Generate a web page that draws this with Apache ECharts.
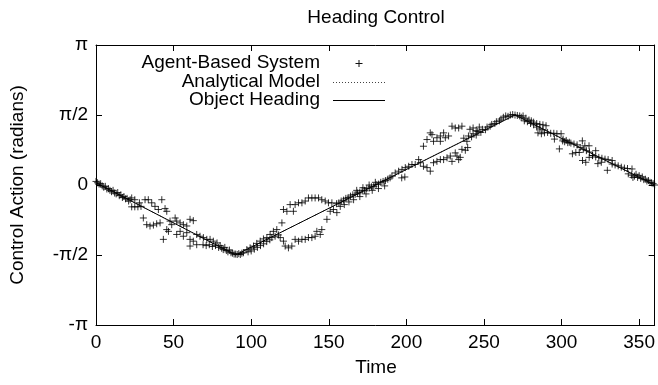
<!DOCTYPE html>
<html><head><meta charset="utf-8">
<script src="https://cdn.jsdelivr.net/npm/echarts@6/dist/echarts.min.js"></script>
<style>html,body{margin:0;padding:0;background:#fff}#c{width:658px;height:385px}</style>
</head><body><div id="c"></div>
<script>
const chartTitle = 'Heading Control';
const xName = 'Time';
const yName = 'Control Action (radians)';
const seriesNames = ['Agent-Based System', 'Analytical Model', 'Object Heading'];
const yTickLabels = ['-π', '-π/2', '0', 'π/2', 'π'];
const headingT = [0, 90, 270, 360];
const headingV = [0.05, -1.5708, 1.5708, 0];
const modelT = [0, 90, 270, 360];
const modelV = [0.05, -1.5708, 1.5708, 0];
const agentPoints = [
  [0,0.08],[1,0.05],[2,0.02],[3,0.03],[4,-0.02],[5,-0.05],[6,-0.03],[7,-0.09],[8,-0.08],[9,-0.12],
  [10,-0.15],[11,-0.12],[12,-0.18],[13,-0.2],[14,-0.17],[15,-0.24],[16,-0.22],[17,-0.28],[18,-0.26],
  [19,-0.31],[20,-0.3],[21,-0.36],[22,-0.33],
  [23,-0.29],[25,-0.33],[23,-0.49],[25,-0.49],[27,-0.49],[29,-0.48],[28,-0.40],
  [31.6,-0.33],[33.7,-0.33],[35.9,-0.40],[38,-0.48],[40.2,-0.55],[42.4,-0.33],[44.5,-0.53],[45.6,-0.59],
  [30.5,-0.74],[32.7,-0.89],[34.8,-0.92],[37,-0.90],[39.1,-0.87],[41.3,-0.85],[43.4,-1.22],[45.6,-1.0],[46.7,-1.04],
  [47.7,-0.81],[48.8,-0.89],[51,-0.74],[52,-0.81],[54.2,-0.85],[56.3,-0.89],[58.5,-0.92],[60.6,-0.77],[62.7,-0.80],
  [52,-1.11],[54.2,-1.04],[56.3,-1.15],[58.5,-1.07],[60.6,-1.22],[62.7,-1.26],[64.9,-1.34],[60.6,-1.37],
  [64.9,-1.11],[67,-1.15],[69.2,-1.18],[71.4,-1.22],[73.5,-1.22],[75.6,-1.26],[69,-1.34],[71,-1.36],[73,-1.34],
  [75,-1.38],[77,-1.36],[79,-1.40],[78,-1.30],[80,-1.36],[81,-1.42],[82,-1.45],[83,-1.40],[84,-1.47],[85,-1.50],
  [86,-1.46],[87,-1.52],[88,-1.53],[89,-1.55],[90,-1.55],[91,-1.56],[92,-1.54],[93,-1.56],[94,-1.53],[95,-1.52],
  [97.2,-1.45],[99.3,-1.41],[101.5,-1.37],[103.6,-1.31],[105.8,-1.26],[107.9,-1.21],[110.1,-1.18],[112.2,-1.11],
  [114.3,-1.04],[116.5,-1.0],
  [98,-1.50],[100,-1.48],[102,-1.44],[104,-1.40],[106,-1.36],[108,-1.32],[110,-1.27],[112,-1.23],
  [113.3,-1.18],[115.4,-1.15],[117.6,-1.12],[118.7,-1.18],[119.8,-0.85],[121.9,-1.37],[124,-1.41],[120.8,-1.26],[126.2,-1.37],
  [120.8,-0.55],[123,-0.59],[125.1,-0.44],[127.2,-0.59],[128.3,-0.44],[130.5,-0.40],[132.7,-0.40],[134.8,-0.36],
  [136.9,-0.29],[139.1,-0.29],[141.2,-0.29],[143.4,-0.29],[145.5,-0.33],[147.7,-0.36],[149.8,-0.40],[152,-0.40],
  [128.3,-1.22],[130.5,-1.26],[132.7,-1.22],[134.8,-1.22],[136.9,-1.18],[139.1,-1.18],[141.2,-1.15],[142.3,-1.04],
  [144.5,-1.11],[145.5,-1.0],
  [148.8,-0.77],[150.9,-0.59],[153,-0.55],[155.2,-0.62],[157.4,-0.48],
  [155,-0.42],[156.5,-0.40],[158,-0.36],[159.5,-0.34],[161,-0.30],[162.5,-0.28],[164,-0.25],[165.5,-0.22],[167,-0.21],
  [168.5,-0.18],[170,-0.16],[171.5,-0.13],[173,-0.12],[174.5,-0.08],[176,-0.07],[177.5,-0.04],[179,-0.03],[180.5,0.01],
  [182,0.02],[183.5,0.06],[185,0.08],[186.5,0.10],[188,0.13],[189.5,0.16],
  [160,-0.44],[163,-0.38],[166,-0.33],[170,-0.26],[174,-0.20],[178,-0.12],[182,-0.08],[186,-0.02],
  [168,-0.12],[172,-0.06],[176,0.0],[180,0.06],
  [190.7,0.20],[192.8,0.27],[195,0.31],[197.2,0.35],[199.3,0.39],[201.5,0.42],[203.6,0.46],[205.7,0.46],[197,0.16],
  [199,0.18],[207.9,0.57],[209,0.50],
  [211,0.42],[213.3,0.39],[215.4,0.31],
  [211,0.87],[213.3,1.02],[215.4,1.17],[216.5,1.13],[217.5,0.98],[219.7,1.06],[221.9,1.10],[221.9,0.98],[224,1.17],
  [225.1,1.06],[227.2,1.10],[229.4,1.32],[231.5,1.28],[233.7,1.28],[235.8,1.32],
  [217.5,0.5],[219.7,0.53],[221.9,0.57],[224,0.57],[226.2,0.61],[228.3,0.65],[229.4,0.53],[231.5,0.72],[232.6,0.65],
  [233.7,0.57],[235.8,0.80],
  [237,1.05],[239,0.98],[240,1.10],[242,1.08],[243,1.15],[245,1.12],[246,1.20],[248,1.18],[249,1.25],[251,1.24],
  [252,1.30],[254,1.32],[255,1.36],[257,1.38],[258,1.42],[260,1.44],[261,1.48],
  [238,0.78],[239.5,0.84],[241,1.25],[243,1.28],[245,1.22],[247,1.30],[234.7,0.62],
  [262.5,1.52],[264,1.55],[265.5,1.54],[267,1.57],[268.5,1.58],[270,1.57],[271.5,1.56],[273,1.55],[274,1.52],
  [275.2,1.55],[277,1.50],[279,1.46],[280.5,1.44],[282,1.41],[284,1.38],[286,1.36],[288,1.35],[290,1.33],
  [284.8,1.17],[287,1.15],[289,1.17],[291,1.18],[293,1.16],[295,1.16],[297,1.15],[299.7,1.15],
  [276,1.44],[278,1.42],[280,1.38],[282,1.35],[284,1.30],[286,1.26],[288,1.24],
  [295.4,1.03],[298.6,0.81],
  [300.7,0.99],[302,0.97],[304,0.95],[306,0.94],[308,0.92],[310,0.90],[313.4,0.99],[315,0.88],[317.7,0.88],
  [307,0.70],[309.2,0.73],[311.4,0.73],[313.5,0.55],[315.6,0.51],[317.8,0.62],[319.9,0.66],[322,0.77],
  [320,0.66],[322,0.63],[324,0.62],[326,0.60],[328,0.58],[330,0.57],[332.6,0.55],
  [323.4,0.48],[325.6,0.51],[329.5,0.33],
  [301,1.03],[303,1.0],[305,0.96],[312,0.84],[314,0.80],[316,0.77],[318,0.74],
  [332.6,0.47],[334.5,0.45],[336.5,0.43],[338.5,0.40],[340.5,0.38],[342.5,0.37],[345.4,0.36],
  [343,0.25],[345,0.22],[347,0.20],[349,0.17],[351,0.15],[353,0.12],[355,0.09],[357,0.06],[359,0.03],[360,0.0],
  [346,0.17],[348,0.24],[350,0.21],[352,0.18],[354,0.13],[356,0.1],[358,0.05]
];

const FONT = '"Liberation Sans", Arial, Helvetica, sans-serif';
const zip = (a, b) => a.map((v, i) => [v, b[i]]);
const axisCommon = {
  axisLine: { show: true, onZero: false, lineStyle: { color: '#000', width: 1 } },
  axisTick: { show: true, inside: true, length: 6, lineStyle: { color: '#000', width: 1 } },
  splitLine: { show: false }
};
const chart = echarts.init(document.getElementById('c'), null, { renderer: 'canvas' });
const legendRowY = [63, 82, 100];
chart.setOption({
  animation: false,
  backgroundColor: '#fff',
  grid: { left: 96, right: 3, top: 45, bottom: 60, containLabel: false },
  xAxis: [
    Object.assign({ type: 'value', min: 0, max: 360, interval: 50, position: 'bottom',
      axisLabel: { showMaxLabel: false, color: '#000', fontSize: 19, fontFamily: FONT, margin: 8 } }, axisCommon),
    Object.assign({ type: 'value', min: 0, max: 360, interval: 50, position: 'top',
      axisLabel: { show: false } }, axisCommon)
  ],
  yAxis: [
    Object.assign({ type: 'value', min: -Math.PI, max: Math.PI, interval: Math.PI / 2, position: 'left',
      axisLabel: { color: '#000', fontSize: 19, fontFamily: FONT, margin: 8,
        formatter: v => yTickLabels[Math.round(v / (Math.PI / 2)) + 2] } }, axisCommon),
    Object.assign({ type: 'value', min: -Math.PI, max: Math.PI, interval: Math.PI / 2, position: 'right',
      axisLabel: { show: false } }, axisCommon)
  ],
  series: [
    { name: seriesNames[0], type: 'scatter', data: agentPoints,
      symbol: 'path://M5,0L5,10M0,5L10,5', symbolSize: 7,
      itemStyle: { color: 'rgba(0,0,0,0)', borderColor: '#000', borderWidth: 1 }, z: 2 },
    { name: seriesNames[1], type: 'line', data: zip(modelT, modelV), showSymbol: false,
      lineStyle: { color: '#444', width: 1, type: [1, 2] }, z: 3 },
    { name: seriesNames[2], type: 'line', data: zip(headingT, headingV), showSymbol: false,
      lineStyle: { color: '#000', width: 1 }, z: 4 }
  ],
  graphic: [
    { type: 'text', x: 376, y: 18, style: { text: chartTitle, font: '19px ' + FONT, fill: '#000', align: 'center', verticalAlign: 'middle' } },
    { type: 'text', x: 376, y: 368, style: { text: xName, font: '19px ' + FONT, fill: '#000', align: 'center', verticalAlign: 'middle' } },
    { type: 'text', x: 18, y: 185, rotation: Math.PI / 2, style: { text: yName, font: '19px ' + FONT, fill: '#000', align: 'center', verticalAlign: 'middle' } },
    { type: 'text', x: 320, y: legendRowY[0], style: { text: seriesNames[0], font: '19px ' + FONT, fill: '#000', align: 'right', verticalAlign: 'middle' } },
    { type: 'text', x: 320, y: legendRowY[1], style: { text: seriesNames[1], font: '19px ' + FONT, fill: '#000', align: 'right', verticalAlign: 'middle' } },
    { type: 'text', x: 320, y: legendRowY[2], style: { text: seriesNames[2], font: '19px ' + FONT, fill: '#000', align: 'right', verticalAlign: 'middle' } },
    { type: 'line', shape: { x1: 355.5, y1: legendRowY[0] + 0.5, x2: 362.5, y2: legendRowY[0] + 0.5 }, style: { stroke: '#111', lineWidth: 1 } },
    { type: 'line', shape: { x1: 359, y1: legendRowY[0] - 3, x2: 359, y2: legendRowY[0] + 4 }, style: { stroke: '#111', lineWidth: 1 } },
    { type: 'line', shape: { x1: 333, y1: legendRowY[1] + 0.5, x2: 385, y2: legendRowY[1] + 0.5 }, style: { stroke: '#444', lineWidth: 1, lineDash: [1, 2] } },
    { type: 'line', shape: { x1: 333, y1: legendRowY[2] + 0.5, x2: 385, y2: legendRowY[2] + 0.5 }, style: { stroke: '#000', lineWidth: 1 } }
  ]
});
</script></body></html>
